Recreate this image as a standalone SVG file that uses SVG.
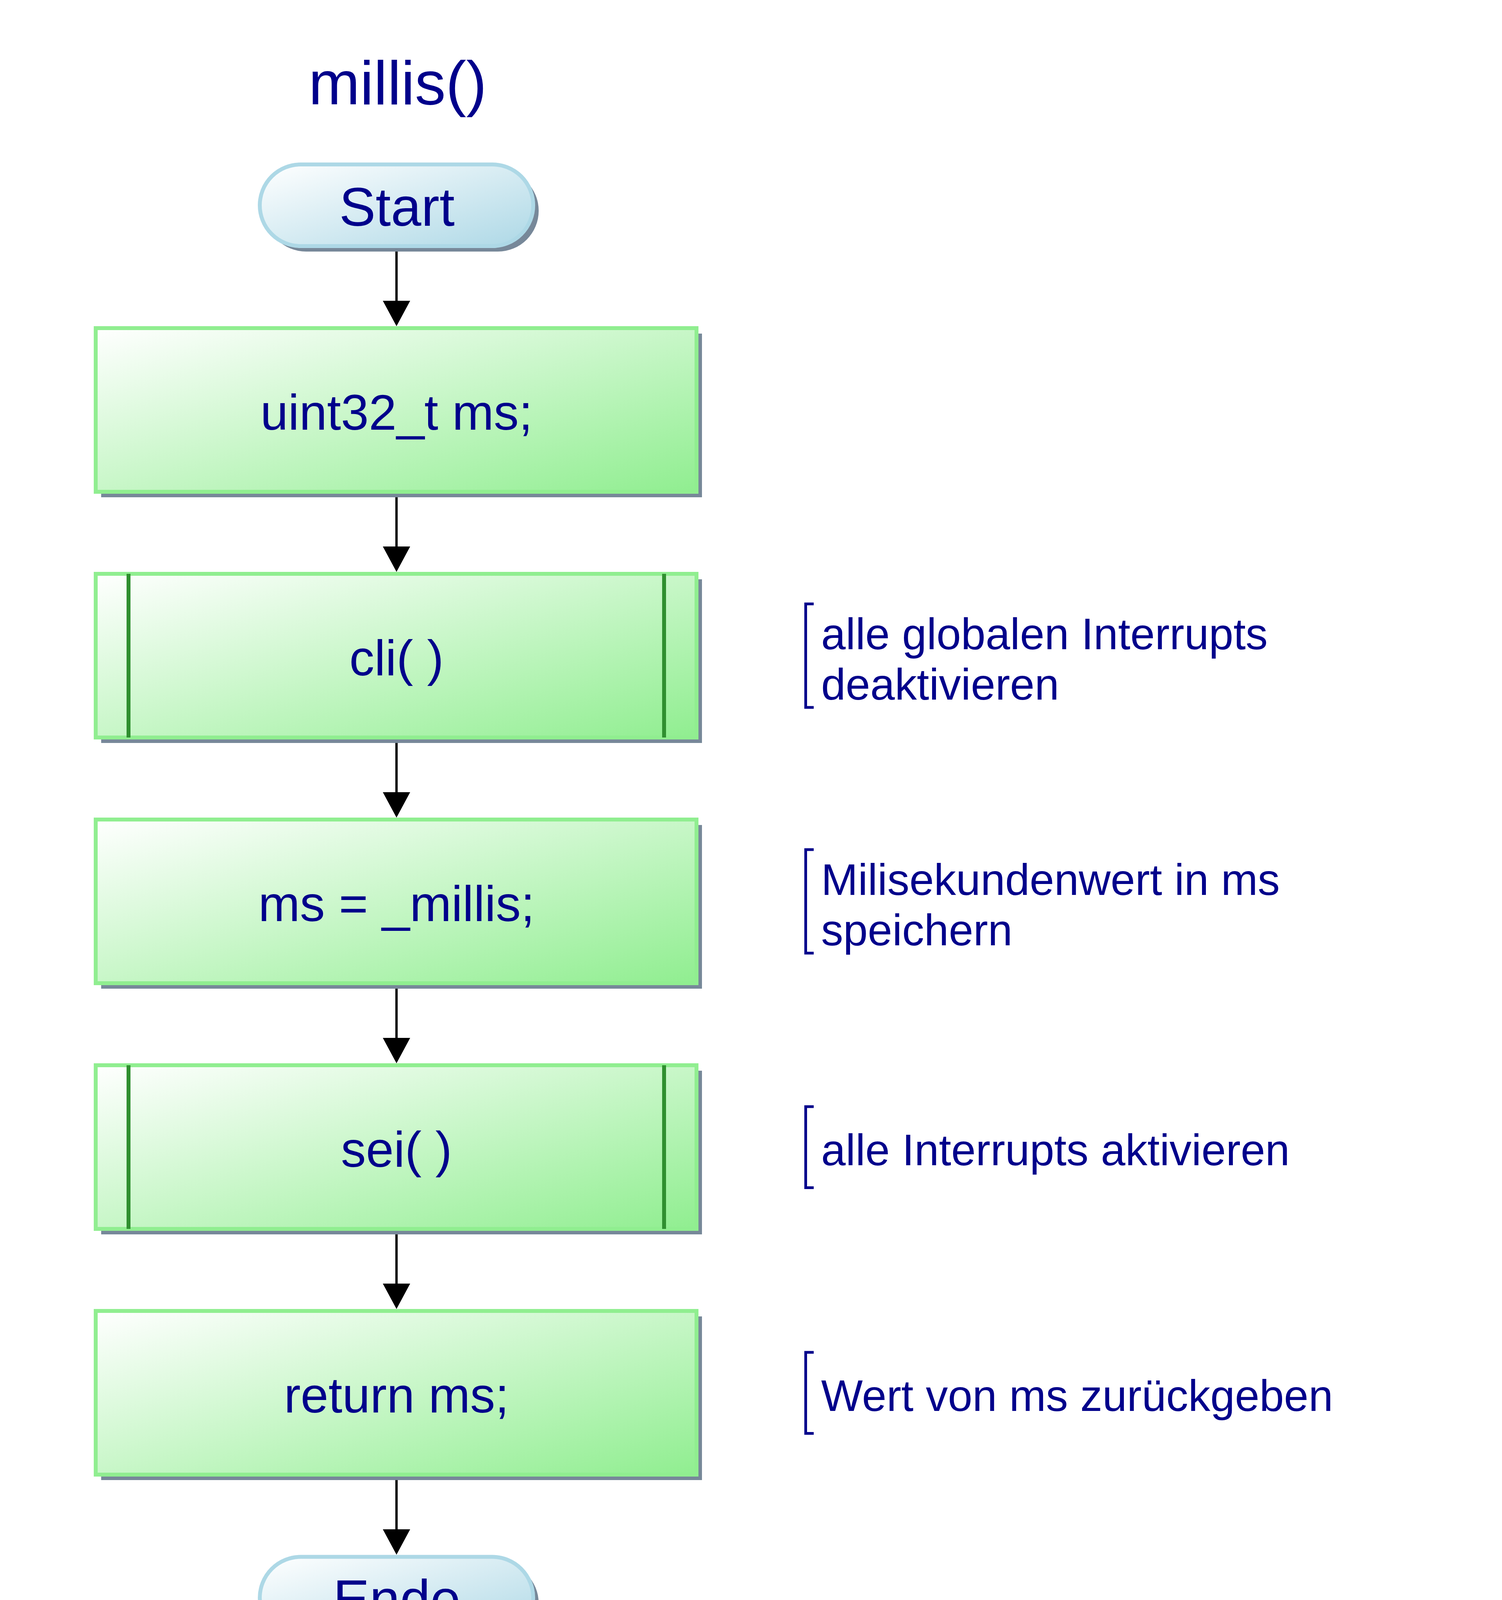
<svg xmlns="http://www.w3.org/2000/svg" width="3845" height="4404" viewBox="0 0 3845 4404">
<style>
.t{font-family:"Liberation Sans",Arial,sans-serif;fill:#00008B}
.title{font-size:158px;text-anchor:middle}
.term-t{font-size:140px;text-anchor:middle}
.box-t{font-size:128px;text-anchor:middle}
.note-t{font-size:113px}
.shadow{fill:#778899}
.box{fill:url(#gGreen);stroke:#90EE90;stroke-width:10}
.term{fill:url(#gBlue);stroke:#ADD8E6;stroke-width:10}
.sub{stroke:#2F8F2F;stroke-width:10;fill:none}
.bracket{fill:none;stroke:#00008B;stroke-width:7}
.conn{fill:none;stroke:#000;stroke-width:6;marker-end:url(#arrow)}
</style>
<defs>
<linearGradient id="gGreen" x1="0" y1="0" x2="1" y2="1">
<stop offset="0" stop-color="#FFFFFF"/>
<stop offset="1" stop-color="#90EE90"/>
</linearGradient>
<linearGradient id="gBlue" x1="0" y1="0" x2="1" y2="1">
<stop offset="0" stop-color="#FFFFFF"/>
<stop offset="1" stop-color="#ADD8E6"/>
</linearGradient>
<marker id="arrow" markerUnits="userSpaceOnUse" markerWidth="66" markerHeight="70" viewBox="0 -35 66 70" refX="1" refY="0" orient="auto">
<path d="M0,-35 L65,0 L0,35 Z" fill="#000"/>
</marker>
</defs>
<rect width="3845" height="4404" fill="#FFFFFF"/>
<text class="t title" x="1018" y="267">millis()</text>

<g id="connectors">
<path class="conn" d="M1015,635 V771"/>
<path class="conn" d="M1015,1264 V1400"/>
<path class="conn" d="M1015,1893 V2029"/>
<path class="conn" d="M1015,2522 V2658"/>
<path class="conn" d="M1015,3151 V3287"/>
<path class="conn" d="M1015,3780 V3916"/>
</g>

<g id="start">
<rect class="shadow" x="679" y="435" width="700" height="209" rx="104.5"/>
<rect class="term" x="665" y="421" width="700" height="209" rx="104.5"/>
<text class="t term-t" x="1016" y="578">Start</text>
</g>

<g id="decl">
<rect class="shadow" x="259" y="854" width="1538" height="419"/>
<rect class="box" x="245" y="840" width="1538" height="419"/>
<text class="t box-t" x="1015" y="1100">uint32_t ms;</text>
</g>

<g id="cli">
<rect class="shadow" x="259" y="1483" width="1538" height="419"/>
<rect class="box" x="245" y="1469" width="1538" height="419"/>
<path class="sub" d="M329,1469 V1888 M1700,1469 V1888"/>
<text class="t box-t" x="1015" y="1729">cli( )</text>
</g>

<g id="assign">
<rect class="shadow" x="259" y="2112" width="1538" height="419"/>
<rect class="box" x="245" y="2098" width="1538" height="419"/>
<text class="t box-t" x="1015" y="2358">ms = _millis;</text>
</g>

<g id="sei">
<rect class="shadow" x="259" y="2741" width="1538" height="419"/>
<rect class="box" x="245" y="2727" width="1538" height="419"/>
<path class="sub" d="M329,2727 V3146 M1700,2727 V3146"/>
<text class="t box-t" x="1015" y="2987">sei( )</text>
</g>

<g id="ret">
<rect class="shadow" x="259" y="3370" width="1538" height="419"/>
<rect class="box" x="245" y="3356" width="1538" height="419"/>
<text class="t box-t" x="1015" y="3616">return ms;</text>
</g>

<g id="ende">
<rect class="shadow" x="679" y="3999.5" width="700" height="210" rx="105"/>
<rect class="term" x="665" y="3985.5" width="700" height="210" rx="105"/>
<text class="t term-t" x="1016" y="4142">Ende</text>
</g>

<g id="note-cli">
<path class="bracket" d="M2083,1546 H2062.5 V1811 H2083"/>
<text class="t note-t" x="2102" y="1661.5">alle globalen Interrupts</text>
<text class="t note-t" x="2102" y="1790.5">deaktivieren</text>
</g>

<g id="note-assign">
<path class="bracket" d="M2083,2175 H2062.5 V2440 H2083"/>
<text class="t note-t" x="2102" y="2290.5">Milisekundenwert in ms</text>
<text class="t note-t" x="2102" y="2419.5">speichern</text>
</g>

<g id="note-sei">
<path class="bracket" d="M2083,2833 H2062.5 V3040.5 H2083"/>
<text class="t note-t" x="2102" y="2982.5">alle Interrupts aktivieren</text>
</g>

<g id="note-ret">
<path class="bracket" d="M2083,3462 H2062.5 V3669.5 H2083"/>
<text class="t note-t" x="2102" y="3611.5">Wert von ms zurückgeben</text>
</g>
</svg>
